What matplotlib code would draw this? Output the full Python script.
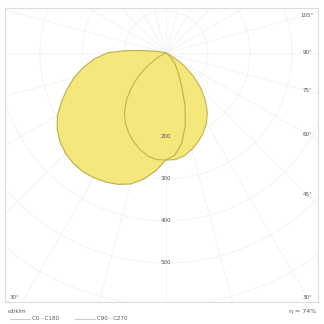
import numpy as np
import matplotlib
matplotlib.use("Agg")
import matplotlib.pyplot as plt

# ---- data (cd/klm) ----
gamma_c0c180 = [-105, -100, -96, -93, -90, -85, -80, -75, -70, -65, -60, -55, -50, -45, -40, -35, -30,
                -25, -20, -15, -10, -5, 0, 5, 10, 15, 20, 25, 30, 35, 40, 45, 50, 55]
int_c0c180 = [0, 20, 55, 100, 140, 172, 200, 226, 250, 274, 298, 316, 329, 338, 343, 345, 343,
              339, 333, 323, 305, 282, 255, 244, 218, 178, 133, 90, 62, 45, 33, 20, 8, 0]

gamma_c90c270 = [-70, -65, -60, -55, -50, -45, -40, -35, -30, -25, -20, -15, -10, -5, 0,
                 5, 10, 15, 20, 25, 30, 35, 40, 45, 50, 55, 60, 65, 70]
int_c90c270 = [0, 8, 25, 52, 84, 116, 146, 172, 193, 210, 225, 238, 249, 255, 255,
               255, 249, 238, 225, 210, 193, 172, 146, 116, 84, 52, 25, 8, 0]

ring_values = [100, 200, 300, 400, 500, 600, 700]
ring_labels = [200, 300, 400, 500]
angle_labels_right = [105, 90, 75, 60, 45, 30]
angle_label_left = 30
unit_text = "cd/klm"
eta_text = "η = 74%"
legend_names = ["C0 - C180", "C90 - C270"]

fill_col = "#f4e87c"
edge_col = "#bfb552"
grid_col = "#f1f1f1"
txt_col = "#555555"

fig = plt.figure(figsize=(3.24, 3.24), dpi=100)
ax = fig.add_axes([5/324, 1-302/324, 313/324, 294/324])
xl, xr, yb, yt = -383, 362, -593, 107
ax.set_xlim(xl, xr)
ax.set_ylim(yb, yt)
ax.set_xticks([]); ax.set_yticks([])
for s in ax.spines.values():
    s.set_color("#dcdcdc"); s.set_linewidth(0.8)

# grid
t = np.linspace(0, 2*np.pi, 400)
for rv in ring_values:
    ax.plot(rv*np.cos(t), rv*np.sin(t), color=grid_col, lw=0.6, zorder=1)
for a in range(0, 360, 15):
    ar = np.radians(a)
    ax.plot([0, 1000*np.sin(ar)], [0, -1000*np.cos(ar)], color=grid_col, lw=0.6, zorder=1)

def xy(g, i):
    g = np.radians(np.asarray(g, float)); i = np.asarray(i, float)
    return i*np.sin(g), -i*np.cos(g)

x1, y1 = xy(gamma_c0c180, int_c0c180)
x2, y2 = xy(gamma_c90c270, int_c90c270)
ax.fill(x1, y1, color=fill_col, zorder=2, lw=0)
ax.fill(x2, y2, color=fill_col, zorder=2, lw=0)
ax.plot(np.append(x1, x1[0]), np.append(y1, y1[0]), color=edge_col, lw=0.9, zorder=3)
ax.plot(np.append(x2, x2[0]), np.append(y2, y2[0]), color=edge_col, lw=0.8, zorder=3)

for rv in ring_labels:
    ax.text(0, -rv, str(rv), fontsize=4, color=txt_col, ha="center", va="center", zorder=4)

xe = 336
for a in angle_labels_right:
    yv = -xe/np.tan(np.radians(a)) if a != 90 else 0.0
    ax.text(xe, yv, f"{a}°", fontsize=4, color=txt_col, ha="center", va="center", zorder=4)
ax.text(-360, -xe/np.tan(np.radians(angle_label_left)), f"{angle_label_left}°", fontsize=4,
        color=txt_col, ha="center", va="center", zorder=4)

fig.text(8/324, 1-311/324, unit_text, fontsize=4, color=txt_col, ha="left", va="center")
fig.text(316/324, 1-311/324, eta_text, fontsize=4.5, color=txt_col, ha="right", va="center")
# legend
yl = 1-319/324
fig.lines.append(plt.Line2D([10/324, 30/324], [yl, yl], color="#cccccc", lw=0.8, transform=fig.transFigure))
fig.text(32/324, yl, legend_names[0], fontsize=4, color=txt_col, ha="left", va="center")
fig.lines.append(plt.Line2D([75/324, 95/324], [yl, yl], color="#cccccc", lw=0.8, transform=fig.transFigure))
fig.text(97/324, yl, legend_names[1], fontsize=4, color=txt_col, ha="left", va="center")

fig.savefig("out.png", dpi=100, facecolor="white")
